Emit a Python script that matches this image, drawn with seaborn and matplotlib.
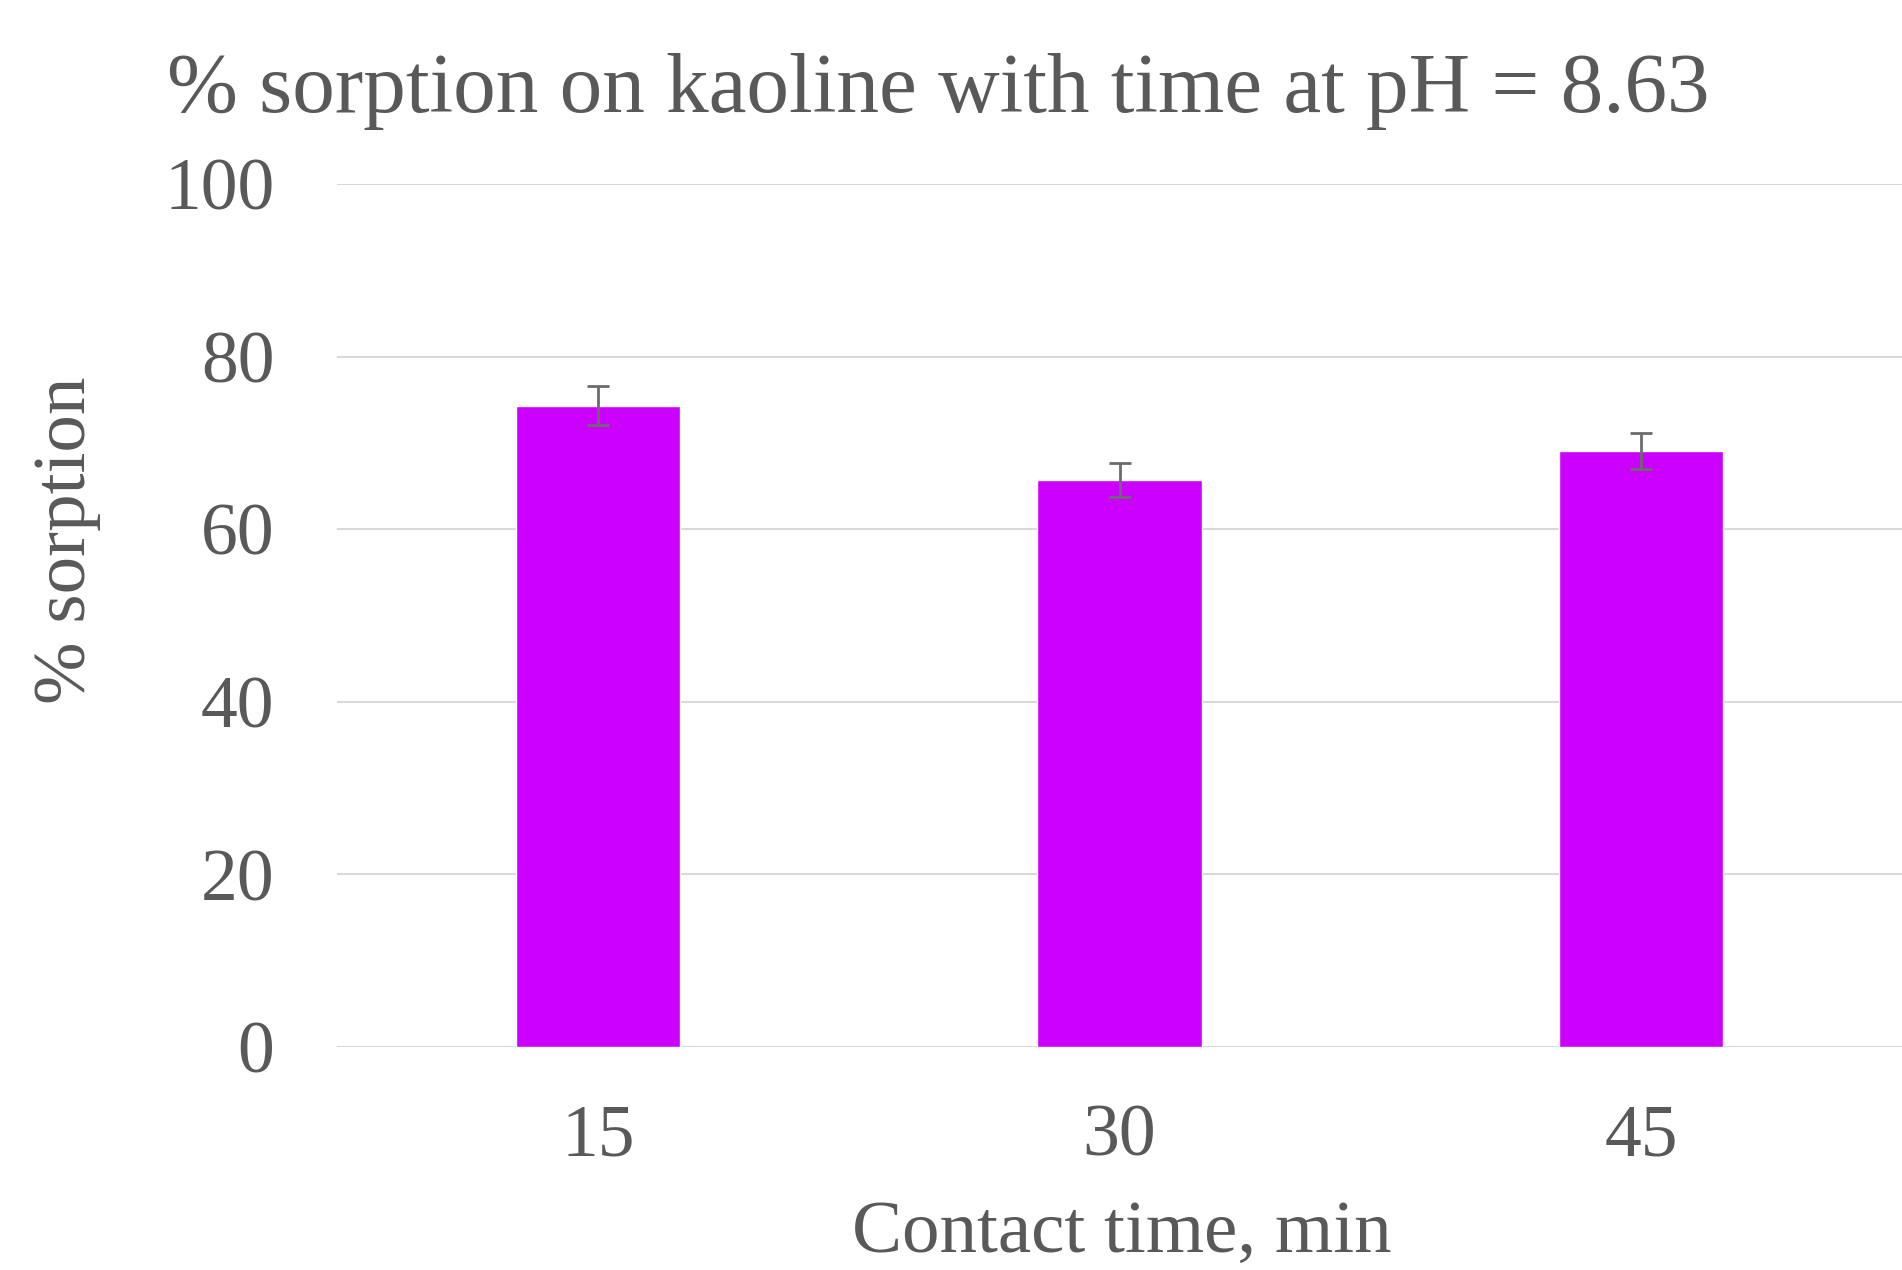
import pandas as pd
import numpy as np
import seaborn as sns
import matplotlib.pyplot as plt

# values
contact_time = ["15", "30", "45"]
sorption = [74.3, 65.7, 69.1]
sorption_err = [2.25, 2.0, 2.1]

sns.set_theme(style="white")
plt.rcParams['font.family'] = ['Liberation Serif', 'DejaVu Serif']
text_color = "#595959"

df = pd.DataFrame({"time": contact_time, "sorption": sorption})

fig = plt.figure(figsize=(19.02, 12.70), dpi=100)
ax = fig.add_axes([337 / 1902, 1 - 1047 / 1270, (1902 - 337) / 1902, (1047 - 184) / 1270])

sns.barplot(data=df, x="time", y="sorption", order=contact_time, color="#cc00ff",
            saturation=1, width=0.315, errorbar=None, ax=ax, zorder=3)
ax.errorbar(np.arange(len(contact_time)), sorption, yerr=sorption_err, fmt="none",
            ecolor="#6b6b6b", elinewidth=2, capsize=8, capthick=2, zorder=4)

ax.set_xlim(-0.5, len(contact_time) - 0.5)
ax.set_ylim(0, 100)
ax.set_yticks(range(0, 101, 20))
ax.yaxis.grid(True, color="#d9d9d9", linewidth=1.5, zorder=0)
ax.set_axisbelow(True)
for s in ax.spines.values():
    s.set_visible(False)
ax.tick_params(axis="both", length=0, labelsize=53, colors=text_color)
ax.tick_params(axis="y", pad=45)
ax.tick_params(axis="x", pad=41)

ax.set_xlabel("Contact time, min", fontsize=54, color=text_color)
ax.set_ylabel("% sorption", fontsize=54, color=text_color)
ax.xaxis.set_label_coords(0.5016, -0.178)
ax.yaxis.set_label_coords(-0.151, 0.587)
fig.text(167 / 1902, 1 - 112 / 1270, "% sorption on kaoline with time at pH = 8.63",
         fontsize=61.3, color=text_color, ha="left", va="baseline")

fig.savefig("out.png", dpi=100)
